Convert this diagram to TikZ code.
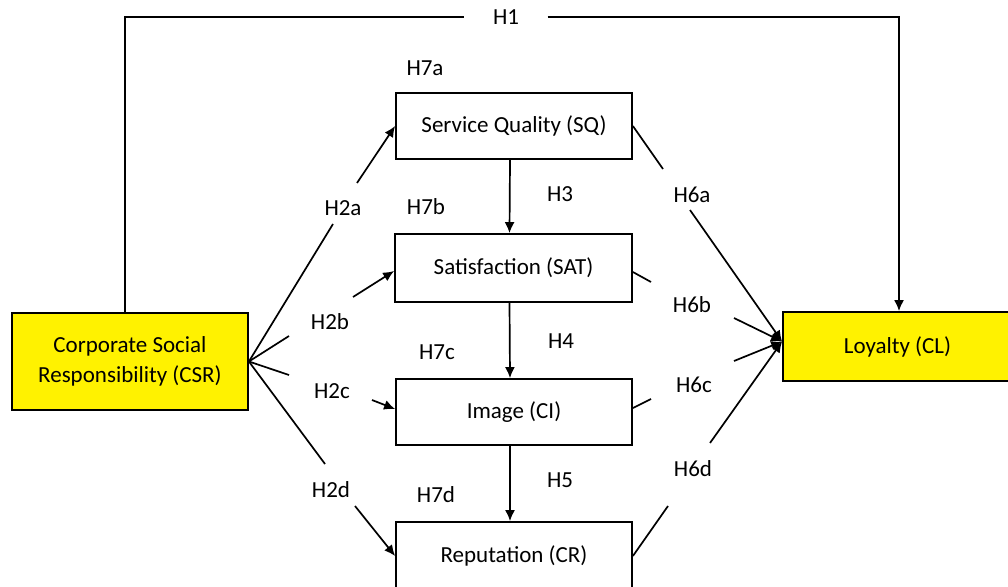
\documentclass[tikz,border=0pt]{standalone}
\usepackage{fontspec}
\setmainfont{Carlito}
\usetikzlibrary{arrows.meta}
\begin{document}
\begin{tikzpicture}[x=1pt,y=-1pt,
  font=\fontsize{23}{30}\selectfont,
  box/.style={draw, line width=1.8pt, rectangle, inner sep=0pt, align=center},
  yel/.style={box, fill=yellow},
  lbl/.style={inner sep=0pt},
  conn/.style={line width=1.7pt},
  arr/.style={conn, -{Latex[length=11pt,width=10pt]}}]
\useasboundingbox (0,0) rectangle (1008,586);
\clip (0,0) rectangle (1008,586);

% boxes
\node[yel, minimum width=236pt, minimum height=97pt] (csr) at (130,361.5) {Corporate Social\\Responsibility (CSR)};
\node[box, minimum width=236pt, minimum height=66pt] (sq)  at (514,126) {Service Quality (SQ)};
\node[box, minimum width=237pt, minimum height=68pt] (sat) at (513.5,268) {Satisfaction (SAT)};
\node[box, minimum width=236pt, minimum height=66pt] (img) at (514,412) {Image (CI)};
\node[box, minimum width=236pt, minimum height=68pt] (rep) at (514,556) {Reputation (CR)};
\node[yel, minimum width=229pt, minimum height=69pt] (cl)  at (897.5,346.5) {Loyalty (CL)};

% labels
\node[lbl, minimum width=83pt] (h1) at (506,17) {H1};
\node[lbl] (h2a) at (343,208) {H2a};
\node[lbl] (h2b) at (330,322) {H2b};
\node[lbl] (h2c) at (332,391) {H2c};
\node[lbl] (h2d) at (331,490) {H2d};
\node[lbl] (h3) at (560,194) {H3};
\node[lbl] (h4) at (561,341) {H4};
\node[lbl] (h5) at (560,480) {H5};
\node[lbl] (h6a) at (692,195) {H6a};
\node[lbl] (h6b) at (692,305) {H6b};
\node[lbl] (h6c) at (694,385) {H6c};
\node[lbl] (h6d) at (693,469) {H6d};
\node[lbl] (h7a) at (425,68) {H7a};
\node[lbl] (h7b) at (426,207) {H7b};
\node[lbl] (h7c) at (437,352) {H7c};
\node[lbl] (h7d) at (436,495) {H7d};

% gap coordinates
\coordinate (g2a1) at (333,224); \coordinate (g2a2) at (357,183);
\coordinate (g2b1) at (289,336); \coordinate (g2b2) at (353,297);
\coordinate (g2c1) at (289,375); \coordinate (g2c2) at (372,400);
\coordinate (g2d1) at (325,464); \coordinate (g2d2) at (355,506);
\coordinate (g6a1) at (663,169); \coordinate (g6a2) at (690,210);
\coordinate (g6b1) at (651,282); \coordinate (g6b2) at (734,318);
\coordinate (g6c1) at (651,399); \coordinate (g6c2) at (734,361);
\coordinate (g6d1) at (668,506); \coordinate (g6d2) at (710,443);

% H1
\draw[conn] ([xshift=-5pt]csr.north) |- (h1.west);
\draw[arr] (h1.east) -| ([xshift=1.5pt]cl.north);

% H2
\draw[conn] (csr.east) -- (g2a1);
\draw[arr] (g2a2) -- (sq.west);
\draw[conn] (csr.east) -- (g2b1);
\draw[arr] (g2b2) -- ([yshift=-3pt]sat.west);
\draw[conn] (csr.east) -- (g2c1);
\draw[arr] (g2c2) -- ([yshift=3pt]img.west);
\draw[conn] (csr.east) -- (g2d1);
\draw[arr] (g2d2) -- (rep.west);

% chain
\draw[arr] ([xshift=-4pt]sq.south) -- ([xshift=-4pt]sat.north);
\draw[arr] ([xshift=-4pt]sat.south) -- ([xshift=-4pt]img.north);
\draw[arr] ([xshift=-4pt]img.south) -- ([xshift=-4pt]rep.north);

% H6
\draw[conn] (sq.east) -- (g6a1);
\draw[arr] (g6a2) -- ([yshift=5pt]cl.west);
\draw[conn] ([yshift=-4pt]sat.east) -- (g6b1);
\draw[arr] (g6b2) -- ([yshift=5pt]cl.west);
\draw[conn] ([yshift=4pt]img.east) -- (g6c1);
\draw[arr] (g6c2) -- ([yshift=5pt]cl.west);
\draw[conn] (rep.east) -- (g6d1);
\draw[arr] (g6d2) -- ([yshift=5pt]cl.west);
\end{tikzpicture}
\end{document}
